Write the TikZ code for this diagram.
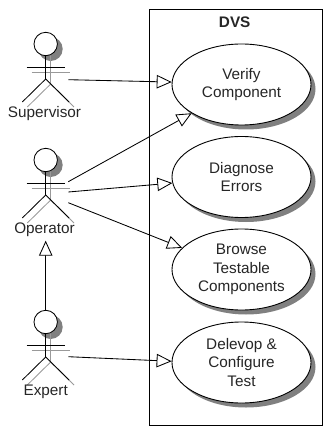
\documentclass[tikz,border=0pt]{standalone}
\usepackage{fontspec}
\setmainfont{Liberation Sans}
\usetikzlibrary{arrows.meta,shapes.geometric}
\tikzset{
 x=1pt,y=-1pt,
 every node/.style={font=\fontsize{15.3}{18.5}\selectfont,text=black!85},
 usecase/.style={draw=black,fill=white,ellipse,line width=0.9pt,minimum width=139pt,minimum height=81pt,inner sep=0pt,align=center,execute at begin node=\rule{0pt}{13.5pt}},
 usecaseshadow/.style={fill=black!50,ellipse,minimum width=139pt,minimum height=81pt,inner sep=0pt},
 assoc/.style={draw=black,line width=0.85pt,-{Triangle[fill=white,length=15pt,width=13.5pt,line width=0.85pt]}},
 stickblack/.style={draw=black,line width=0.85pt},
 stickgray/.style={draw=black!40,line width=0.85pt},
 actorlabel/.style={inner sep=0pt,anchor=center}
}
\newcommand{\actor}[2]{% x, y of the head centre
 \begin{scope}[shift={(#1,#2)}]
  \fill[black!50] (5,5) circle (12);
  \draw[stickgray] (5,10) -- (5,40);
  \draw[stickgray] (-14,28) -- (24,28);
  \draw[stickgray] (5,40) -- (-18.4,63);
  \draw[stickgray] (5,40) -- (28.3,63);
  \draw[stickblack,fill=white] (0,0) circle (11.7);
  \draw[stickblack] (0,11.7) -- (0,35);
  \draw[stickblack] (-19,23) -- (19,23);
  \draw[stickblack] (0,35) -- (-23.4,58);
  \draw[stickblack] (0,35) -- (23.4,58);
 \end{scope}}
\begin{document}
\begin{tikzpicture}
\useasboundingbox (0,0) rectangle (323,427);
\draw[black,line width=0.9pt] (149.5,9.5) rectangle (322,425.5);
\node[font=\fontsize{15.3}{18.5}\selectfont\bfseries] (title) at (234.7,22) {DVS};
\foreach \y in {84.5,177,269.5,362.5} \node[usecaseshadow] at (246,\y+4.5) {};
\node[usecase] (verify) at (241.5,84.5) {Verify\\Component};
\node[usecase] (diagnose) at (241.5,177) {Diagnose\\Errors};
\node[usecase] (browse) at (241.5,269.5) {Browse\\Testable\\Components};
\node[usecase] (develop) at (241.5,362.5) {Delevop \&\\Configure\\Test};
\actor{45.7}{44}
\actor{45.7}{160}
\actor{45.7}{322}
\node[actorlabel] (supervisor) at (44.5,114) {Supervisor};
\node[actorlabel] (operator) at (44.5,230) {Operator};
\node[actorlabel] (expert) at (45.7,392) {Expert};
\coordinate (sup) at (68.3,79.7);
\coordinate (op1) at (68.3,181.7);
\coordinate (op2) at (68.3,192);
\coordinate (op3) at (68.3,202.7);
\coordinate (exp) at (68.3,356.7);
\coordinate (exptop) at (45.7,310);
\coordinate (optip) at (45.7,240.7);
\draw[assoc] (sup) -- (verify.178);
\draw[assoc] (op1) -- (verify.210);
\draw[assoc] (op2) -- (diagnose.185);
\draw[assoc] (op3) -- (browse.160);
\draw[assoc] (exp) -- (develop.179);
\draw[assoc] (exptop) -- (optip);
\end{tikzpicture}
\end{document}
